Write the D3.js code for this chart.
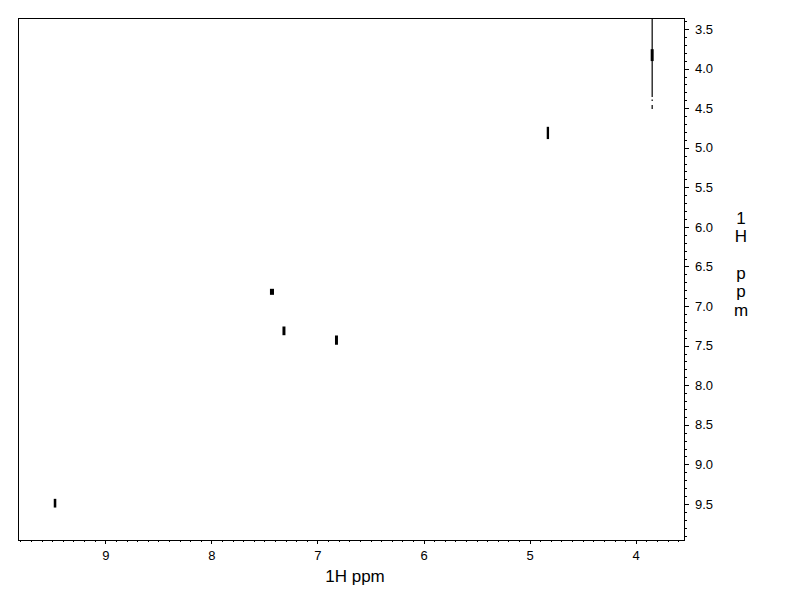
<!DOCTYPE html>
<html><head><meta charset="utf-8">
<script src="https://cdn.jsdelivr.net/npm/d3@7/dist/d3.min.js"></script>
<style>body{margin:0;background:#fff}svg{display:block}text{font-family:Arial,"Liberation Sans",sans-serif}</style>
</head><body>
<script>
// Peak centres (F2 ppm, F1 ppm) and extents (ppm)
const peakX = [9.474, 7.429, 7.316, 6.821, 4.828, 3.845];
const peakY = [9.49, 6.82, 7.313, 7.43, 4.813, 3.83];
const peakW = [0.024, 0.038, 0.028, 0.028, 0.022, 0.028];
const peakH = [0.11, 0.076, 0.11, 0.117, 0.155, 0.15];
// t1 noise streak at 3.845 ppm: [start, end] in F1 ppm
const streakX = 3.845;
const streakSegs = [[3.361, 4.36], [4.39, 4.41], [4.46, 4.51]];
const xTickLabels = [9, 8, 7, 6, 5, 4];
const yTickLabels = [3.5, 4.0, 4.5, 5.0, 5.5, 6.0, 6.5, 7.0, 7.5, 8.0, 8.5, 9.0, 9.5];
const xLabel = "1H ppm";
const yLabelChars = ["1", "H", "", "p", "p", "m"];

const W = 792, H = 612;
const L = 18, R = 684, T = 18, B = 540;
const svg = d3.select("body").append("svg").attr("width", W).attr("height", H);
const x = d3.scaleLinear().domain([9.823, 3.545]).range([L, R]);
const y = d3.scaleLinear().domain([3.361, 9.955]).range([T, B]);

// minor ticks
const xMinor = d3.range(36, 99).map(d => d / 10);
const yMinor = d3.range(34, 100).map(d => d / 10);

const gx = svg.append("g").attr("transform", `translate(0,${B})`);
gx.call(d3.axisBottom(x).tickValues(xMinor).tickSize(2).tickFormat(""));
gx.append("g").call(d3.axisBottom(x).tickValues(xTickLabels).tickSize(4).tickPadding(7).tickFormat(d3.format("d")));
gx.selectAll(".domain").remove();
gx.selectAll("line").attr("stroke", "#000").attr("shape-rendering", "crispEdges");
gx.selectAll("text").attr("font-size", 13).attr("fill", "#000");

const gy = svg.append("g").attr("transform", `translate(${R},0)`);
gy.call(d3.axisRight(y).tickValues(yMinor).tickSize(3).tickFormat(""));
gy.append("g").call(d3.axisRight(y).tickValues(yTickLabels).tickSize(5).tickPadding(6).tickFormat(d3.format(".1f")));
gy.selectAll(".domain").remove();
gy.selectAll("line").attr("stroke", "#000").attr("shape-rendering", "crispEdges");
gy.selectAll("text").attr("font-size", 13).attr("fill", "#000");

// frame
svg.append("rect").attr("x", L + 0.5).attr("y", T + 0.5).attr("width", R - L - 0.5).attr("height", B - T)
  .attr("fill", "none").attr("stroke", "#000").attr("shape-rendering", "crispEdges");

const plot = svg.append("g");
// streak
plot.selectAll("line.streak").data(streakSegs).join("line").attr("class", "streak")
  .attr("x1", x(streakX)).attr("x2", x(streakX))
  .attr("y1", d => y(d[0])).attr("y2", d => y(d[1]))
  .attr("stroke", "#000").attr("stroke-width", 1.2);
// peaks
plot.selectAll("rect.peak").data(peakX.map((d, i) => i)).join("rect").attr("class", "peak")
  .attr("x", i => x(peakX[i] + peakW[i] / 2))
  .attr("width", i => x(peakX[i] - peakW[i] / 2) - x(peakX[i] + peakW[i] / 2))
  .attr("y", i => y(peakY[i] - peakH[i] / 2))
  .attr("height", i => y(peakY[i] + peakH[i] / 2) - y(peakY[i] - peakH[i] / 2))
  .attr("fill", "#000");

// axis titles
svg.append("text").attr("x", 355).attr("y", 582).attr("text-anchor", "middle")
  .attr("font-size", 17).attr("fill", "#000").text(xLabel);
svg.append("g").selectAll("text").data(yLabelChars).join("text")
  .attr("x", 741).attr("y", (d, i) => 224 + i * 18.3).attr("text-anchor", "middle")
  .attr("font-size", 17).attr("fill", "#000").text(d => d);
</script>
</body></html>
